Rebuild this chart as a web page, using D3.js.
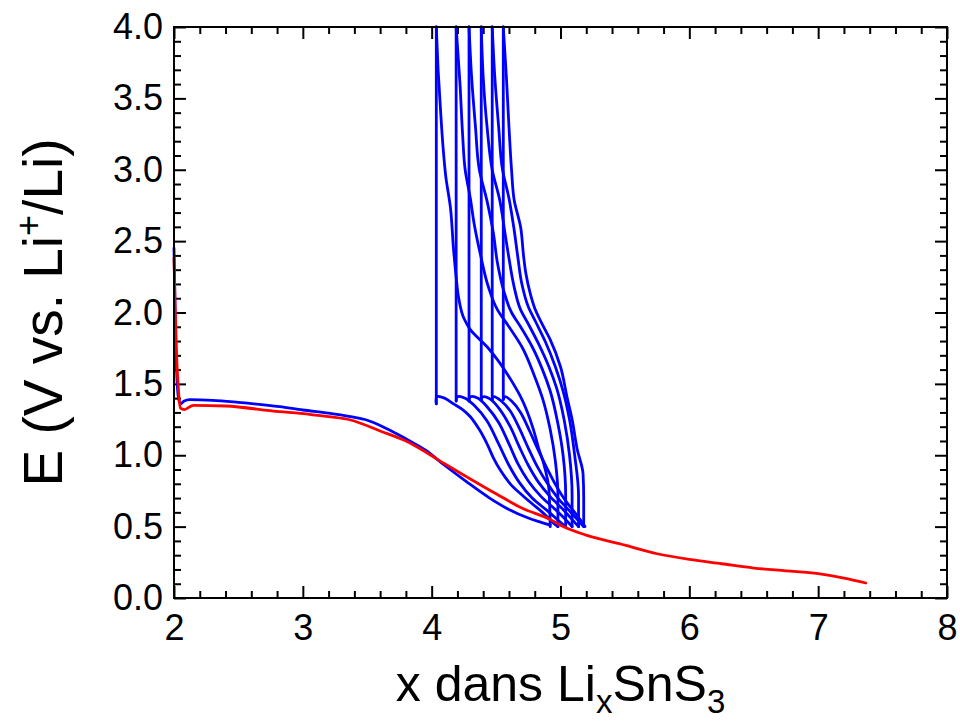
<!DOCTYPE html>
<html>
<head>
<meta charset="utf-8">
<script src="https://cdn.jsdelivr.net/npm/d3@7"></script>
<style>
  html, body { margin: 0; padding: 0; background: #fff; }
  svg { display: block; font-family: "Liberation Sans", Arial, sans-serif; }
</style>
</head>
<body>
<svg id="chart" width="960" height="722"></svg>
<script>
// ---- Data (x in LixSnS3, E in V vs Li+/Li) ----
const xTicks = [2, 3, 4, 5, 6, 7, 8];
const yTicks = [0.0, 0.5, 1.0, 1.5, 2.0, 2.5, 3.0, 3.5, 4.0];

const firstDischarge = [[2.00,2.45],[2.005,2.20],[2.01,1.90],[2.02,1.60],[2.035,1.40],[2.05,1.36],[2.08,1.38],[2.12,1.39],[2.30,1.385],[2.50,1.37],[2.82,1.34],[3.00,1.317],[3.20,1.295],[3.37,1.27],[3.50,1.245],[3.62,1.20],[3.75,1.14],[3.85,1.09],[3.95,1.037],[4.10,0.93],[4.27,0.815],[4.45,0.70],[4.60,0.62],[4.75,0.56],[4.85,0.53],[4.92,0.51]];

const redCurve = [[2.00,2.38],[2.01,2.00],[2.02,1.70],[2.035,1.45],[2.05,1.33],[2.08,1.32],[2.15,1.35],[2.40,1.345],[2.82,1.305],[2.98,1.294],[3.20,1.27],[3.37,1.247],[3.60,1.17],[3.80,1.10],[3.95,1.025],[4.10,0.94],[4.27,0.85],[4.50,0.73],[4.70,0.63],[4.92,0.55],[5.00,0.51],[5.20,0.44],[5.50,0.37],[5.75,0.31],[6.00,0.27],[6.25,0.24],[6.50,0.21],[6.75,0.19],[7.00,0.17],[7.20,0.14],[7.37,0.105]];

const charge1 = [[4.92,0.50],[4.91,0.76],[4.87,0.94],[4.83,1.05],[4.79,1.18],[4.69,1.41],[4.60,1.55],[4.51,1.67],[4.43,1.76],[4.30,1.88],[4.25,1.96],[4.21,2.10],[4.19,2.25],[4.17,2.44],[4.145,2.74],[4.11,2.95],[4.09,3.14],[4.07,3.40],[4.05,3.70],[4.036,4.00]];
const charge2 = [[4.98,0.50],[4.98,0.72],[4.96,0.96],[4.92,1.18],[4.86,1.40],[4.80,1.55],[4.70,1.76],[4.60,1.90],[4.51,2.02],[4.44,2.18],[4.38,2.40],[4.33,2.62],[4.30,2.80],[4.26,3.00],[4.24,3.25],[4.22,3.60],[4.19,4.00]];
const charge3 = [[5.04,0.50],[5.04,0.72],[5.02,1.00],[4.98,1.22],[4.92,1.45],[4.86,1.60],[4.78,1.76],[4.69,1.90],[4.62,2.00],[4.56,2.15],[4.51,2.35],[4.48,2.55],[4.43,2.78],[4.37,3.00],[4.34,3.30],[4.31,3.65],[4.29,4.00]];
const charge4 = [[5.09,0.50],[5.09,0.72],[5.07,1.00],[5.03,1.24],[4.97,1.47],[4.91,1.62],[4.83,1.78],[4.75,1.92],[4.69,2.02],[4.64,2.18],[4.60,2.38],[4.57,2.55],[4.53,2.78],[4.47,3.00],[4.43,3.30],[4.40,3.65],[4.385,4.00]];
const charge5 = [[5.14,0.50],[5.14,0.72],[5.11,1.00],[5.07,1.25],[5.02,1.45],[4.96,1.62],[4.88,1.80],[4.81,1.93],[4.75,2.04],[4.70,2.20],[4.67,2.38],[4.64,2.58],[4.60,2.80],[4.55,3.00],[4.52,3.30],[4.49,3.65],[4.47,4.00]];
const charge6 = [[5.18,0.50],[5.18,0.70],[5.175,0.87],[5.13,1.04],[5.09,1.25],[5.05,1.41],[5.00,1.62],[4.92,1.81],[4.857,1.92],[4.80,2.03],[4.766,2.13],[4.73,2.28],[4.714,2.39],[4.69,2.60],[4.64,2.79],[4.62,3.00],[4.60,3.30],[4.58,3.65],[4.556,4.00]];

const discharge1 = [[4.036,4.00],[4.036,1.36],[4.04,1.41],[4.10,1.40],[4.17,1.36],[4.24,1.32],[4.30,1.27],[4.37,1.18],[4.43,1.08],[4.48,0.98],[4.53,0.90],[4.61,0.80],[4.69,0.73],[4.78,0.66],[4.86,0.60],[4.94,0.53],[4.98,0.50]];
const discharge2 = [[4.19,4.00],[4.19,1.38],[4.20,1.41],[4.26,1.40],[4.33,1.35],[4.43,1.24],[4.52,1.08],[4.60,0.93],[4.68,0.81],[4.78,0.70],[4.90,0.61],[5.00,0.53],[5.04,0.50]];
const discharge3 = [[4.29,4.00],[4.29,1.38],[4.30,1.41],[4.36,1.40],[4.43,1.34],[4.52,1.23],[4.60,1.08],[4.67,0.94],[4.75,0.82],[4.85,0.71],[4.96,0.62],[5.05,0.54],[5.09,0.50]];
const discharge4 = [[4.385,4.00],[4.385,1.39],[4.40,1.41],[4.46,1.39],[4.53,1.32],[4.61,1.20],[4.68,1.06],[4.75,0.93],[4.83,0.81],[4.92,0.71],[5.02,0.62],[5.10,0.54],[5.14,0.50]];
const discharge5 = [[4.47,4.00],[4.47,1.39],[4.48,1.41],[4.54,1.38],[4.61,1.31],[4.68,1.19],[4.75,1.05],[4.82,0.92],[4.90,0.80],[4.98,0.70],[5.07,0.61],[5.14,0.54],[5.18,0.50]];
const discharge6 = [[4.556,4.00],[4.556,1.39],[4.57,1.41],[4.62,1.38],[4.69,1.30],[4.76,1.17],[4.83,1.03],[4.90,0.90],[4.97,0.78],[5.04,0.68],[5.11,0.60],[5.16,0.54],[5.19,0.50]];

const chargeSeries = [charge1, charge2, charge3, charge4, charge5, charge6];
const dischargeSeries = [discharge1, discharge2, discharge3, discharge4, discharge5, discharge6];

// ---- Layout ----
const m = { left: 174, right: 947, top: 27, bottom: 598 };
const svg = d3.select("#chart");
const FONT = "'Liberation Sans', Arial, sans-serif";

const x = d3.scaleLinear().domain([2, 8]).range([m.left, m.right]);
const y = d3.scaleLinear().domain([0, 4]).range([m.bottom, m.top]);

const minorX = d3.range(2, 8.0001, 0.2).map(v => +v.toFixed(2)).filter(v => !xTicks.includes(v));
const minorY = d3.range(0, 4.0001, 0.1).map(v => +v.toFixed(2)).filter(v => !yTicks.some(t => Math.abs(t - v) < 1e-6));

const MAJ = 12, MIN = 7;
function styleAxis(g) {
  g.select(".domain").remove();
  g.selectAll(".tick line").attr("stroke", "#000").attr("stroke-width", 2);
}

// bottom
svg.append("g").attr("transform", `translate(0,${m.bottom})`)
  .call(d3.axisBottom(x).tickValues(xTicks).tickSizeInner(-MAJ).tickSizeOuter(0).tickPadding(16).tickFormat(d3.format("d")))
  .call(styleAxis)
  .call(g => g.selectAll("text").attr("font-size", 36).attr("fill", "#000").attr("font-family", FONT));
svg.append("g").attr("transform", `translate(0,${m.bottom})`)
  .call(d3.axisBottom(x).tickValues(minorX).tickSizeInner(-MIN).tickSizeOuter(0).tickFormat(""))
  .call(styleAxis);
// top
svg.append("g").attr("transform", `translate(0,${m.top})`)
  .call(d3.axisTop(x).tickValues(xTicks).tickSizeInner(-MAJ).tickSizeOuter(0).tickFormat(""))
  .call(styleAxis);
svg.append("g").attr("transform", `translate(0,${m.top})`)
  .call(d3.axisTop(x).tickValues(minorX).tickSizeInner(-MIN).tickSizeOuter(0).tickFormat(""))
  .call(styleAxis);
// left
svg.append("g").attr("transform", `translate(${m.left},0)`)
  .call(d3.axisLeft(y).tickValues(yTicks).tickSizeInner(-MAJ).tickSizeOuter(0).tickPadding(11).tickFormat(d3.format(".1f")))
  .call(styleAxis)
  .call(g => g.selectAll("text").attr("font-size", 36).attr("fill", "#000").attr("font-family", FONT));
svg.append("g").attr("transform", `translate(${m.left},0)`)
  .call(d3.axisLeft(y).tickValues(minorY).tickSizeInner(-MIN).tickSizeOuter(0).tickFormat(""))
  .call(styleAxis);
// right
svg.append("g").attr("transform", `translate(${m.right},0)`)
  .call(d3.axisRight(y).tickValues(yTicks).tickSizeInner(-MAJ).tickSizeOuter(0).tickFormat(""))
  .call(styleAxis);
svg.append("g").attr("transform", `translate(${m.right},0)`)
  .call(d3.axisRight(y).tickValues(minorY).tickSizeInner(-MIN).tickSizeOuter(0).tickFormat(""))
  .call(styleAxis);

// ---- Curves ----
const smoothX = d3.line().x(d => x(d[0])).y(d => y(d[1])).curve(d3.curveMonotoneX);
const smoothY = d3.line().x(d => x(d[0])).y(d => y(d[1])).curve(d3.curveMonotoneY);
const straight = d3.line().x(d => x(d[0])).y(d => y(d[1]));
const smoothCR = d3.line().x(d => x(d[0])).y(d => y(d[1])).curve(d3.curveCatmullRom.alpha(0.5));

const curves = svg.append("g");
function blue(g, data, gen) {
  g.append("path").datum(data).attr("d", gen)
    .attr("fill", "none").attr("stroke", "#0000ff").attr("stroke-width", 2.8)
    .attr("stroke-linejoin", "round").attr("stroke-linecap", "round");
}
blue(curves, firstDischarge, smoothX);
chargeSeries.forEach(s => blue(curves, s, smoothY));
dischargeSeries.forEach(s => {
  blue(curves, s.slice(0, 2), straight);          // vertical relaxation drop
  blue(curves, s.slice(1), smoothCR);             // discharge curve
});
curves.append("path").datum(redCurve).attr("d", smoothX)
  .attr("fill", "none").attr("stroke", "#ff0000").attr("stroke-width", 2.8)
  .attr("stroke-linejoin", "round").attr("stroke-linecap", "round");

// frame
svg.append("rect").attr("x", m.left).attr("y", m.top)
  .attr("width", m.right - m.left).attr("height", m.bottom - m.top)
  .attr("fill", "none").attr("stroke", "#000").attr("stroke-width", 2);

// ---- Titles ----
const xt = svg.append("text").attr("x", (m.left + m.right) / 2).attr("y", 701)
  .attr("text-anchor", "middle").attr("font-size", 50).attr("fill", "#000");
xt.append("tspan").text("x dans Li");
xt.append("tspan").text("x").attr("font-size", 33).attr("dy", 12);
xt.append("tspan").text("SnS").attr("dy", -12);
xt.append("tspan").text("3").attr("font-size", 33).attr("dy", 12);

const yt = svg.append("text")
  .attr("transform", `translate(62,${(m.top + m.bottom) / 2}) rotate(-90)`)
  .attr("text-anchor", "middle").attr("font-size", 55).attr("fill", "#000");
yt.append("tspan").text("E (V vs. Li");
yt.append("tspan").text("+").attr("font-size", 36).attr("dy", -21);
yt.append("tspan").text("/Li)").attr("dy", 21);
</script>
</body>
</html>
